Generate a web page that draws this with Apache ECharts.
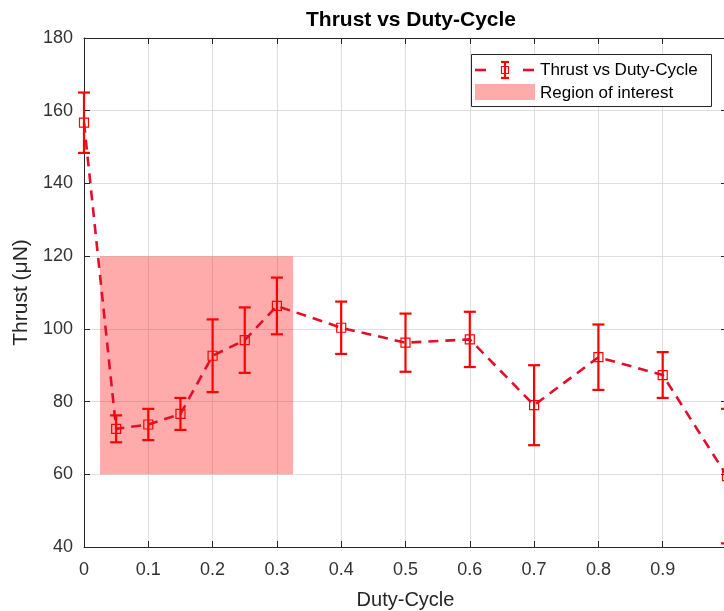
<!DOCTYPE html>
<html>
<head>
<meta charset="utf-8">
<script src="https://cdn.jsdelivr.net/npm/echarts@6/dist/echarts.min.js"></script>
<style>
html,body{margin:0;padding:0;background:#fff;}
#chart{width:724px;height:611px;}
</style>
</head>
<body>
<div id="chart"></div>
<script>
// ---- data ----
var dutyCycle = [0, 0.05, 0.1, 0.15, 0.2, 0.25, 0.3, 0.4, 0.5, 0.6, 0.7, 0.8, 0.9, 1.0];
var thrust    = [156.7, 72.5, 73.7, 76.6, 92.6, 96.9, 106.3, 100.3, 96.2, 97.1, 79.0, 92.2, 87.3, 59.5];
var thrustErr = [8.3, 3.7, 4.3, 4.4, 10.0, 9.0, 7.8, 7.2, 8.0, 7.6, 11.0, 9.0, 6.3, 18.5];
var regionX = [0.025, 0.325];
var regionY = [60, 120];
var xTicks = ['0','0.1','0.2','0.3','0.4','0.5','0.6','0.7','0.8','0.9','1'];
var yTicks = [40, 60, 80, 100, 120, 140, 160, 180];
var titleText = 'Thrust vs Duty-Cycle';
var seriesName = 'Thrust vs Duty-Cycle';
var regionName = 'Region of interest';

var FONT = '"Liberation Sans", Arial, Helvetica, sans-serif';
var RED = '#ff0000';
var LINE_RED = '#e0102c';
var AXIS = '#262626';

var lineData = dutyCycle.map(function (x, i) { return [x, thrust[i]]; });
var errData = dutyCycle.map(function (x, i) { return [x, thrust[i] - thrustErr[i], thrust[i] + thrustErr[i]]; });

var chart = echarts.init(document.getElementById('chart'), null, {renderer: 'canvas'});

var option = {
  animation: false,
  backgroundColor: '#ffffff',
  title: {
    text: titleText,
    left: 406, top: 5, textAlign: 'center',
    textStyle: {fontFamily: FONT, fontSize: 21, fontWeight: 'bold', color: '#000'}
  },
  grid: {left: 84, top: 38, right: -3, bottom: 64, containLabel: false, outerBoundsMode: 'none'},
  xAxis: [{
    type: 'value', min: 0, max: 1, interval: 0.1, position: 'bottom',
    name: 'Duty-Cycle', nameLocation: 'middle', nameGap: 43,
    nameTextStyle: {fontFamily: FONT, fontSize: 20, color: '#262626'},
    axisLine: {show: true, onZero: false, lineStyle: {color: AXIS, width: 1}},
    axisTick: {show: true, inside: true, length: 6, lineStyle: {color: AXIS}},
    axisLabel: {fontFamily: FONT, fontSize: 18, color: '#333', margin: 14, showMaxLabel: false,
      formatter: function (v) { return xTicks[Math.round(v * 10)]; }},
    splitLine: {show: true, lineStyle: {color: '#dedede', width: 1}}
  }, {
    type: 'value', min: 0, max: 1, interval: 0.1, position: 'top',
    axisLine: {show: true, onZero: false, lineStyle: {color: AXIS, width: 1}},
    axisTick: {show: true, inside: true, length: 6, lineStyle: {color: AXIS}},
    axisLabel: {show: false}, splitLine: {show: false}
  }],
  yAxis: [{
    type: 'value', min: yTicks[0], max: yTicks[yTicks.length - 1], interval: 20, position: 'left',
    name: 'Thrust (μN)', nameLocation: 'middle', nameGap: 49,
    nameTextStyle: {fontFamily: FONT, fontSize: 21, color: '#262626'},
    axisLine: {show: true, onZero: false, lineStyle: {color: AXIS, width: 1}},
    axisTick: {show: true, inside: true, length: 6, lineStyle: {color: AXIS}},
    axisLabel: {fontFamily: FONT, fontSize: 18, color: '#333', margin: 11},
    splitLine: {show: true, lineStyle: {color: '#dedede', width: 1}}
  }, {
    type: 'value', min: yTicks[0], max: yTicks[yTicks.length - 1], interval: 20, position: 'right',
    axisLine: {show: true, onZero: false, lineStyle: {color: AXIS, width: 1}},
    axisTick: {show: true, inside: true, length: 6, lineStyle: {color: AXIS}},
    axisLabel: {show: false}, splitLine: {show: false}
  }],
  series: [{
    name: regionName,
    type: 'line',
    data: [],
    silent: true,
    markArea: {
      silent: true,
      itemStyle: {color: 'rgba(255,0,0,0.33)'},
      data: [[{xAxis: regionX[0], yAxis: regionY[0]}, {xAxis: regionX[1], yAxis: regionY[1]}]]
    }
  }, {
    name: seriesName,
    type: 'line',
    data: lineData,
    clip: false,
    symbol: 'none',
    lineStyle: {color: LINE_RED, width: 2.6, type: [10, 7]},
    z: 3
  }, {
    name: seriesName + ' error',
    type: 'custom',
    data: errData,
    clip: false,
    z: 4,
    renderItem: function (params, api) {
      var x = api.value(0);
      var lo = api.coord([x, api.value(1)]);
      var hi = api.coord([x, api.value(2)]);
      var mid = api.coord([x, (api.value(1) + api.value(2)) / 2]);
      var cw = 6;
      var st = {stroke: RED, lineWidth: 2.2, fill: null};
      var s = 4.5;
      return {
        type: 'group',
        children: [
          {type: 'line', shape: {x1: hi[0], y1: hi[1], x2: lo[0], y2: lo[1]}, style: st},
          {type: 'line', shape: {x1: hi[0] - cw, y1: hi[1], x2: hi[0] + cw, y2: hi[1]}, style: st},
          {type: 'line', shape: {x1: lo[0] - cw, y1: lo[1], x2: lo[0] + cw, y2: lo[1]}, style: st},
          {type: 'rect', shape: {x: mid[0] - s, y: mid[1] - s, width: 2 * s, height: 2 * s},
            style: {stroke: RED, lineWidth: 1.2, fill: 'rgba(0,0,0,0)'}}
        ]
      };
    }
  }],
  graphic: [
    {type: 'rect', left: 471, top: 54, z: 100,
      shape: {width: 240, height: 52},
      style: {fill: '#ffffff', stroke: AXIS, lineWidth: 1}},
    {type: 'line', z: 101, shape: {x1: 475, y1: 70, x2: 486, y2: 70},
      style: {stroke: LINE_RED, lineWidth: 2.6}},
    {type: 'line', z: 101, shape: {x1: 523, y1: 70, x2: 534, y2: 70},
      style: {stroke: LINE_RED, lineWidth: 2.6}},
    {type: 'line', z: 101, shape: {x1: 505, y1: 62, x2: 505, y2: 78},
      style: {stroke: RED, lineWidth: 2.2}},
    {type: 'line', z: 101, shape: {x1: 501, y1: 62, x2: 509, y2: 62},
      style: {stroke: RED, lineWidth: 2.2}},
    {type: 'line', z: 101, shape: {x1: 501, y1: 78, x2: 509, y2: 78},
      style: {stroke: RED, lineWidth: 2.2}},
    {type: 'rect', z: 101, shape: {x: 501.5, y: 66.5, width: 7, height: 7},
      style: {stroke: RED, lineWidth: 1.2, fill: 'rgba(0,0,0,0)'}},
    {type: 'text', z: 101, x: 540, y: 70,
      style: {text: seriesName, fontFamily: FONT, fontSize: 17, fill: '#000', textVerticalAlign: 'middle'}},
    {type: 'rect', z: 101, shape: {x: 475, y: 84, width: 60, height: 16},
      style: {fill: 'rgba(255,0,0,0.33)'}},
    {type: 'text', z: 101, x: 540, y: 93,
      style: {text: regionName, fontFamily: FONT, fontSize: 17, fill: '#000', textVerticalAlign: 'middle'}}
  ]
};
chart.setOption(option);
</script>
</body>
</html>
